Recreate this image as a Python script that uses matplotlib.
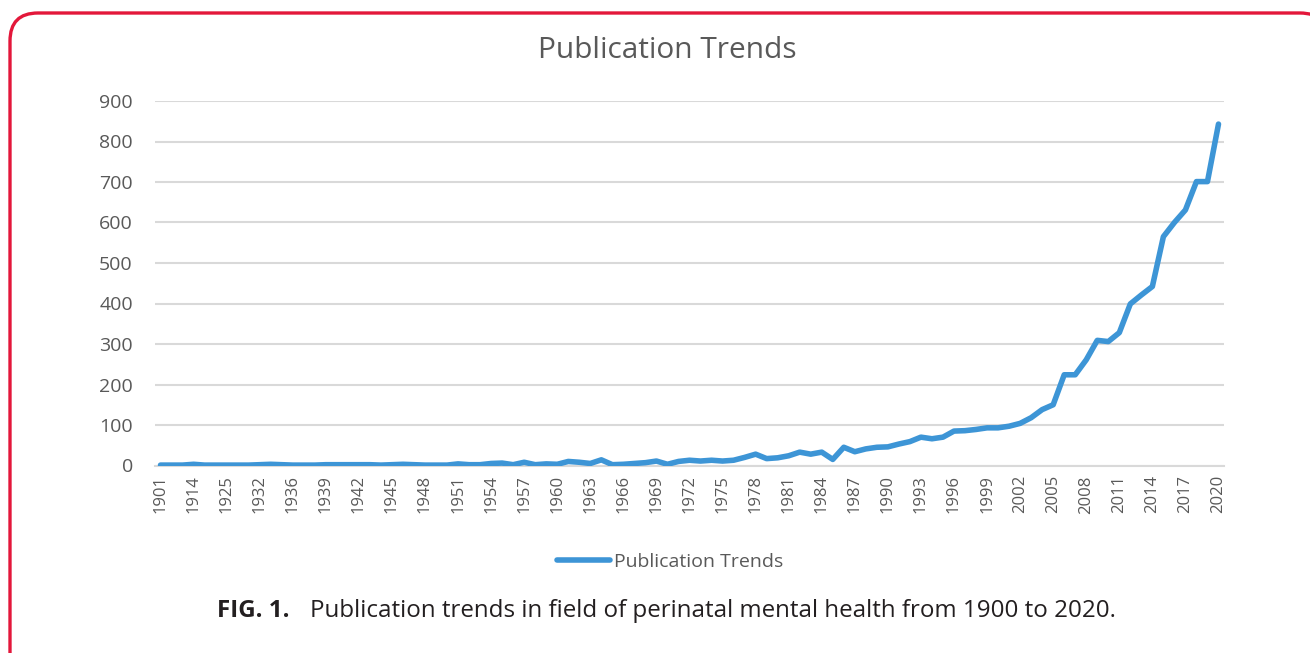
import matplotlib
matplotlib.use("Agg")
import matplotlib.pyplot as plt
from matplotlib.path import Path
from matplotlib.patches import PathPatch

# years present in the data (the early ones are sparse, categories are evenly spaced)
years = [1901, 1905, 1910, 1914, 1918, 1921, 1925, 1927, 1930, 1932, 1933, 1935] + \
    list(range(1936, 2021))
counts = [1, 1, 1, 3, 1, 1, 1, 1, 1, 2, 3, 2,
          1, 1, 1, 2, 2, 2, 2, 2, 1, 2,            # 1936-1945
          3, 2, 1, 1, 1, 4, 2, 2, 5, 6,            # 1946-1955
          2, 8, 2, 4, 3, 10, 8, 5, 14, 2,          # 1956-1965
          3, 5, 7, 11, 3, 10, 13, 11, 13, 11,      # 1966-1975
          13, 20, 28, 17, 19, 24, 33, 28, 33, 15,  # 1976-1985
          45, 34, 41, 45, 46, 53, 59, 70, 66, 70,  # 1986-1995
          85, 86, 89, 93, 93, 97, 104, 118, 138, 150,   # 1996-2005
          224, 224, 261, 309, 306, 328, 399, 421, 442, 565,  # 2006-2015
          600, 631, 701, 701, 843]                 # 2016-2020
yticks = list(range(0, 1000, 100))

title = "Publication Trends"
caption_bold = "FIG. 1."
caption = "Publication trends in field of perinatal mental health from 1900 to 2020."

W, H = 1310, 653
fig = plt.figure(figsize=(W / 100, H / 100), dpi=100)
fig.patch.set_facecolor("white")

# red rounded frame (only top and left sides fall inside the image), pixel units
frame = fig.add_axes([0, 0, 1, 1])
frame.set_xlim(0, W)
frame.set_ylim(H, 0)
frame.axis("off")
r, left, top, right = 28, 10, 13, 1328
verts = [(left, H + 20), (left, top + r), (left, top), (left + r, top),
         (right - r, top), (right, top), (right, top + r), (right, H + 20)]
codes = [Path.MOVETO, Path.LINETO, Path.CURVE3, Path.CURVE3,
         Path.LINETO, Path.CURVE3, Path.CURVE3, Path.LINETO]
frame.add_patch(PathPatch(Path(verts, codes), fill=False, ec="#e3173a",
                          lw=2.4))

gray = "#595959"
ax = fig.add_axes([155 / W, 1 - 465.5 / H, (1224 - 155) / W, (465.5 - 101) / H])
x = list(range(len(years)))
ax.plot(x, counts, color="#3d95d6", lw=4, solid_joinstyle="round",
        solid_capstyle="round", label="Publication Trends", zorder=3)
ax.set_xlim(-0.5, len(years) - 0.5)
ax.set_ylim(0, 900)
ax.set_yticks(yticks)
ax.set_yticklabels([str(v) for v in yticks], fontsize=14, color=gray,
                   family="Open Sans")
ax.set_xticks(x[::3])
ax.set_xticklabels([str(y) for y in years[::3]], rotation=90, fontsize=12,
                   color=gray, family="Open Sans")
ax.tick_params(length=0, pad=7)
ax.tick_params(axis="y", pad=16)
ax.grid(axis="y", color="#d9d9d9", lw=1.5)
ax.set_axisbelow(True)
for s in ["top", "right", "left"]:
    ax.spines[s].set_visible(False)
ax.spines["bottom"].set_color("#d9d9d9")
ax.spines["bottom"].set_linewidth(1.5)

fig.text(667 / W, 1 - 50 / H, title, ha="center", va="center", fontsize=21.5,
         color=gray, family="Open Sans")

leg = ax.legend(loc="center", bbox_to_anchor=(670 / W, 1 - 562 / H),
                bbox_transform=fig.transFigure, frameon=False,
                prop={"family": "Open Sans", "size": 14}, handlelength=2.7,
                handletextpad=0.2)
for t in leg.get_texts():
    t.set_color(gray)

fig.text(217 / W, 1 - 617 / H, caption_bold, ha="left", va="baseline",
         fontsize=17.4, fontweight="bold", color="#231f20", family="Open Sans")
fig.text(310 / W, 1 - 617 / H, caption, ha="left", va="baseline",
         fontsize=17.4, color="#231f20", family="Open Sans")

fig.savefig("out.png", dpi=100, facecolor="white")
